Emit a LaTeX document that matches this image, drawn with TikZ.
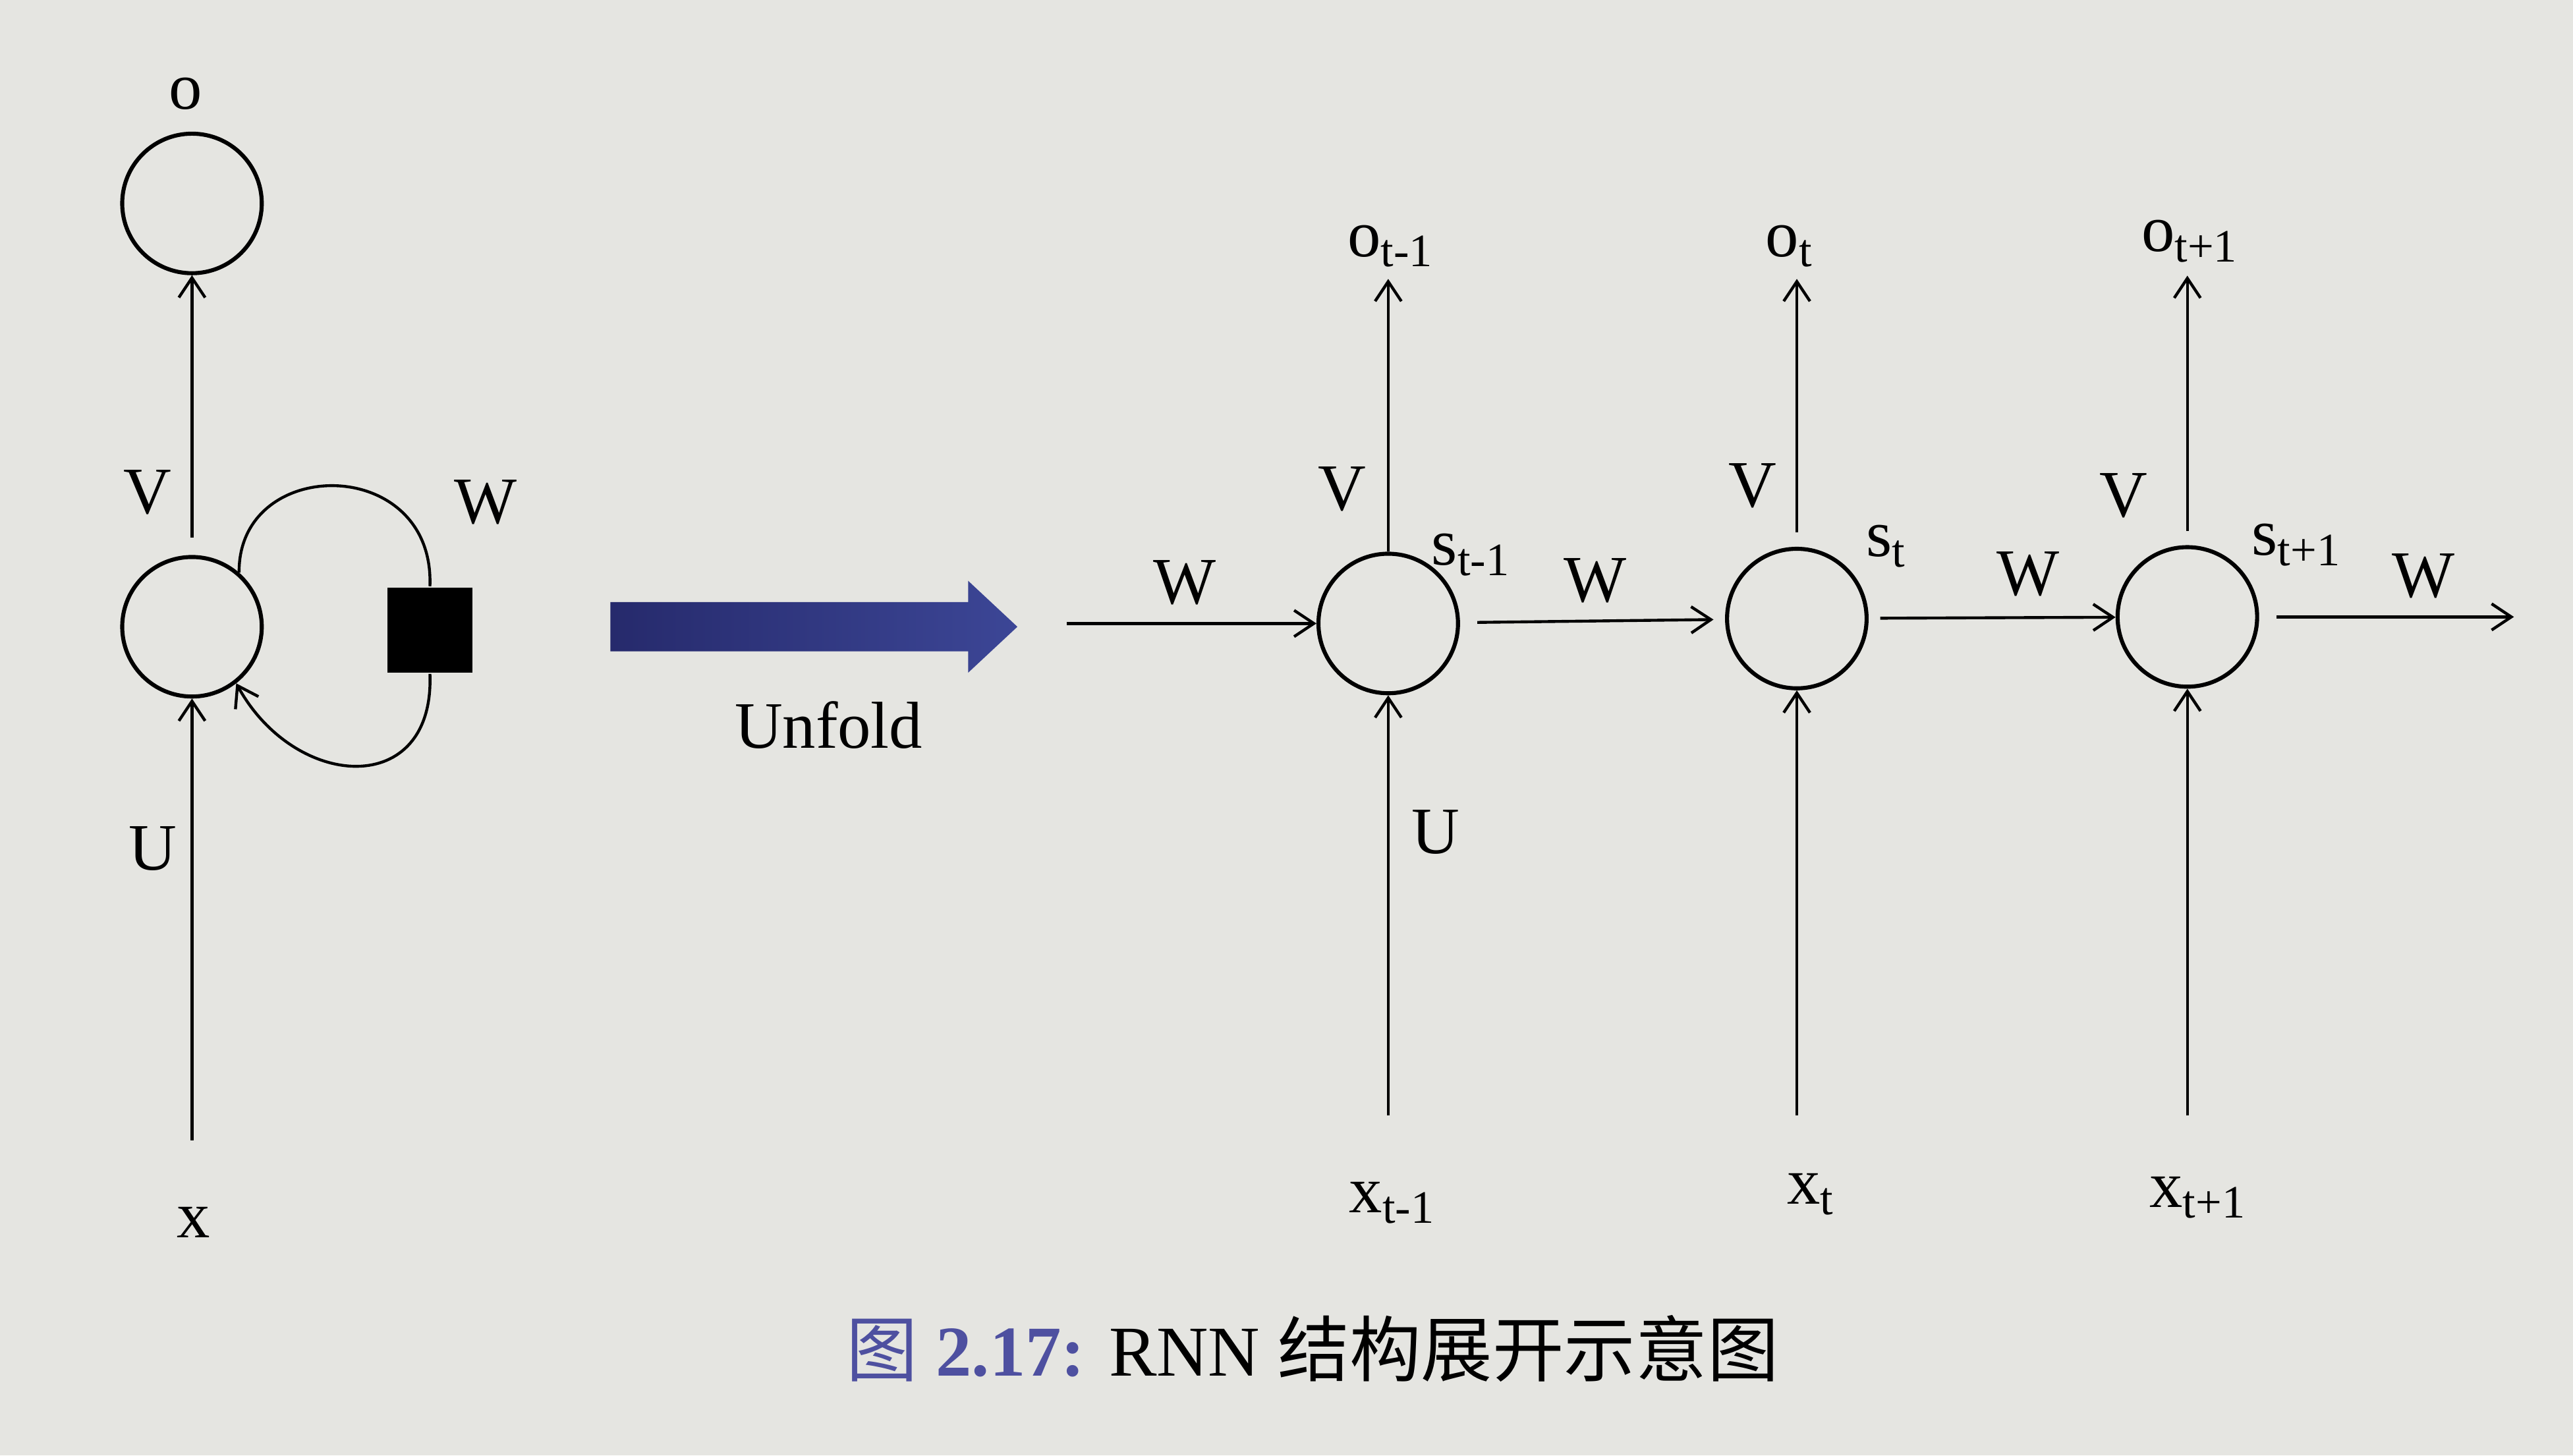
\documentclass[tikz,border=0pt]{standalone}
\usepackage{fontspec}
\setmainfont{Liberation Serif}
\newfontfamily\cjk{Noto Sans CJK SC}
\usepackage{xcolor}
\usetikzlibrary{arrows.meta,positioning,calc}
\definecolor{paper}{RGB}{229,229,225}
\definecolor{navy}{RGB}{38,42,108}
\definecolor{navylight}{RGB}{60,70,150}
\definecolor{capblue}{RGB}{78,80,160}
\newcommand{\sbs}[2]{#1\textsubscript{#2}}

\begin{document}
\begin{tikzpicture}[x=0.01cm, y=0.01cm, font=\fontsize{11.5}{14}\selectfont,
    cell/.style={circle, draw, line width=0.7pt, minimum size=0.85cm, inner sep=0pt},
    conn/.style={-{Straight Barb[length=1.2mm,width=1.6mm]}, line width=0.5pt},
    lbl/.style={inner sep=1pt}]
    % Paper
    \fill[paper] (0,0) rectangle (1568,887);
    \useasboundingbox (0,0) rectangle (1568,887);

    % Folded RNN
    \node[cell] (o0) at (117,763) {};
    \node[cell] (h0) at (117,505) {};
    \node[fill=black, minimum size=0.52cm, inner sep=0pt] (sq) at (262,503) {};
    \coordinate (x0) at (117,192);
    \draw[conn] (x0) -- (h0.south);
    \draw[conn, shorten <=3pt] (h0.north) -- (o0.south);
    \draw[line width=0.5pt] (h0.49) .. controls (145,610) and (265,610) .. (sq.north);
    \draw[conn] (sq.south) .. controls (265,400) and (180,405) .. (h0.-52);
    \node[lbl] (lo) at (113,830) {o};
    \node[lbl] (lx) at (118,142) {x};
    \node[lbl] (lv) at (90,587) {V};
    \node[lbl] (lu) at (93,370) {U};
    \node[lbl] (lw) at (296,581) {W};

    % Unfold
    \shade[left color=navy, right color=navylight] (372,490) -- (590,490) -- (590,477) -- (620,505)
        -- (590,533) -- (590,520) -- (372,520) -- cycle;
    \node[lbl] (unf) at (505,445) {Unfold};

    % Unfolded RNN
    \node[cell] (h1) at (846,507) {};
    \node[cell] (h2) at (1095,510) {};
    \node[cell] (h3) at (1333,511) {};
    \coordinate (win) at (650,507);
    \coordinate (wout) at (1532,511);
    \coordinate (o1) at (846,717);
    \coordinate (o2) at (1095,717);
    \coordinate (o3) at (1333,719);
    \coordinate (x1) at (846,207);
    \coordinate (x2) at (1095,207);
    \coordinate (x3) at (1333,207);

    \draw[conn] (win) -- (h1);
    \draw[conn, shorten <=3pt, shorten >=2pt] (h1) -- (h2);
    \draw[conn, shorten <=2pt] (h2) -- (h3);
    \draw[conn, shorten <=3pt] (h3.east) -- (wout);
    \draw[conn] (h1.north) -- (o1);
    \draw[conn, shorten <=2.5pt] (h2.north) -- (o2);
    \draw[conn, shorten <=2.5pt] (h3.north) -- (o3);
    \draw[conn] (x1) -- (h1.south);
    \draw[conn] (x2) -- (h2.south);
    \draw[conn] (x3) -- (h3.south);

    \node[lbl] (w1) at (722,532) {W};
    \node[lbl] (w2) at (972,533) {W};
    \node[lbl] (w3) at (1236,537) {W};
    \node[lbl] (w4) at (1477,536) {W};
    \node[lbl] (v1) at (818,589) {V};
    \node[lbl] (v2) at (1068,591) {V};
    \node[lbl] (v3) at (1294,585) {V};
    \node[lbl] (u1) at (875,380) {U};
    \node[lbl] (s1) at (897,549) {\sbs{s}{t-1}};
    \node[lbl] (s2) at (1150,554) {\sbs{s}{t}};
    \node[lbl] (s3) at (1400,555) {\sbs{s}{t+1}};
    \node[lbl] (ot1) at (848,737) {\sbs{o}{t-1}};
    \node[lbl] (ot2) at (1091,737) {\sbs{o}{t}};
    \node[lbl] (ot3) at (1335,740) {\sbs{o}{t+1}};
    \node[lbl] (xt1) at (849,154) {\sbs{x}{t-1}};
    \node[lbl] (xt2) at (1104,159) {\sbs{x}{t}};
    \node[lbl] (xt3) at (1340,157) {\sbs{x}{t+1}};

    % Caption
    \node[lbl, font=\fontsize{12.4}{15}\selectfont] (cap) at (800,65)
        {\textcolor{capblue}{{\cjk 图} \textbf{2.17:}} RNN {\cjk 结构展开示意图}};
\end{tikzpicture}
\end{document}
